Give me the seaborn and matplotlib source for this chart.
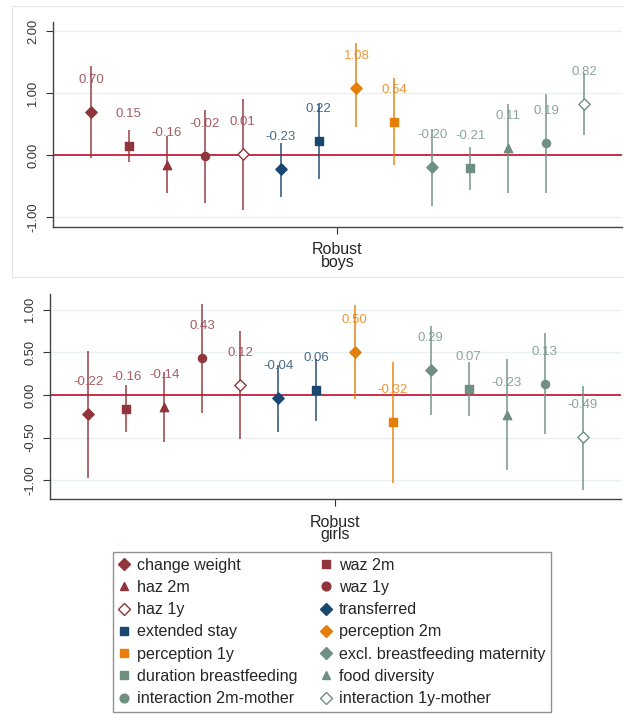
import numpy as np
import pandas as pd
import seaborn as sns
import matplotlib.pyplot as plt
from matplotlib.lines import Line2D
from matplotlib.patches import Rectangle

# outcomes in plotting order
outcomes = ['change weight', 'waz 2m', 'haz 2m', 'waz 1y', 'haz 1y',
            'transferred', 'extended stay', 'perception 2m', 'perception 1y',
            'excl. breastfeeding maternity', 'duration breastfeeding',
            'food diversity', 'interaction 2m-mother', 'interaction 1y-mother']

boys_est = [0.70, 0.15, -0.16, -0.02, 0.01, -0.23, 0.22, 1.08, 0.54,
            -0.20, -0.21, 0.11, 0.19, 0.82]
boys_lo = [-0.05, -0.12, -0.62, -0.78, -0.89, -0.68, -0.38, 0.46, -0.16,
           -0.82, -0.56, -0.62, -0.61, 0.32]
boys_hi = [1.44, 0.40, 0.30, 0.73, 0.90, 0.20, 0.83, 1.80, 1.24,
           0.42, 0.13, 0.83, 0.98, 1.32]

girls_est = [-0.22, -0.16, -0.14, 0.43, 0.12, -0.04, 0.06, 0.50, -0.32,
             0.29, 0.07, -0.23, 0.13, -0.49]
girls_lo = [-0.97, -0.43, -0.55, -0.21, -0.52, -0.43, -0.31, -0.05, -1.03,
            -0.23, -0.25, -0.88, -0.46, -1.11]
girls_hi = [0.52, 0.12, 0.27, 1.07, 0.75, 0.35, 0.42, 1.05, 0.39,
            0.81, 0.39, 0.42, 0.73, 0.11]

group_names = ['Robust\nboys', 'Robust\ngirls']
boys_ticks = [-1, 0, 1, 2]
girls_ticks = [-1, -0.5, 0, 0.5, 1]

# styles
maroon, navy, orange, green = '#90353b', '#1a476f', '#e67e0b', '#6f8f81'
colors = [maroon] * 5 + [navy] * 2 + [orange] * 2 + [green] * 5
markers = ['D', 's', '^', 'o', 'D', 'D', 's', 'D', 's', 'D', 's', '^', 'o', 'D']
hollow = [False, False, False, False, True, False, False, False, False,
          False, False, False, False, True]
sizes = {'D': 33, 's': 38, '^': 36, 'o': 34}

sns.set_style('white')
plt.rcParams['font.family'] = ['Liberation Sans', 'DejaVu Sans']

fig = plt.figure(figsize=(6.24, 7.15), dpi=100)

# faint frame around the top panel
fig.patches.append(Rectangle((12 / 624, 1 - 277 / 715), 0.99, (277 - 6) / 715,
                             transform=fig.transFigure, fill=False,
                             edgecolor='#e4e4e4', lw=0.8))

ax1 = fig.add_axes([0.0849, 0.6825, 0.9119, 0.2871])
ax2 = fig.add_axes([0.0801, 0.3017, 0.9151, 0.2871])


def draw_panel(ax, est, lo, hi, group, yticks, ylim):
    df = pd.DataFrame({'outcome': outcomes, 'est': est, 'lo': lo, 'hi': hi})
    df['pos'] = np.arange(len(df)) - (len(df) - 1) / 2

    for yt in yticks:
        if yt != 0:
            ax.axhline(yt, color='#eaf1f2', lw=1.0, zorder=0)
    ax.axhline(0, color='#c41e3a', lw=1.3, zorder=1)

    for i, row in df.iterrows():
        c = colors[i]
        ax.vlines(row['pos'], row['lo'], row['hi'], color=c, alpha=0.8,
                  lw=1.3, zorder=2)
        sns.scatterplot(x=[row['pos']], y=[row['est']], ax=ax, color=c,
                        marker=markers[i], s=sizes[markers[i]],
                        facecolor='white' if hollow[i] else c,
                        edgecolor=c, linewidth=1.0, zorder=3, legend=False)
        ax.annotate(f"{row['est']:.2f}", (row['pos'], row['est']),
                    xytext=(0, 23), textcoords='offset points',
                    ha='center', va='center', fontsize=9.5, color=c,
                    alpha=0.8, zorder=4)

    ax.set_xlim(-7.5, 7.5)
    ax.set_ylim(*ylim)
    ax.set_xticks([0])
    ax.set_xticklabels([group], fontsize=11.5, linespacing=0.8)
    ax.set_yticks(yticks)
    ax.set_yticklabels([f'{t:.2f}' for t in yticks], rotation=90,
                       va='center', fontsize=9.3, color='#333333')
    ax.tick_params(axis='both', length=5, width=0.8, color='#333333',
                   direction='out', left=True, bottom=True, pad=5)
    ax.tick_params(axis='x', pad=6)
    ax.set_xlabel('')
    ax.set_ylabel('')
    sns.despine(ax=ax)
    for side in ['left', 'bottom']:
        ax.spines[side].set_color('#444444')
        ax.spines[side].set_linewidth(1.0)


draw_panel(ax1, boys_est, boys_lo, boys_hi, group_names[0], boys_ticks, (-1.161, 2.15))
draw_panel(ax2, girls_est, girls_lo, girls_hi, group_names[1], girls_ticks, (-1.223, 1.184))

handles = []
for i, name in enumerate(outcomes):
    c = colors[i]
    handles.append(Line2D([], [], linestyle='none', marker=markers[i],
                          markersize=6 if markers[i] == 'D' else 6.3,
                          markerfacecolor='white' if hollow[i] else c,
                          markeredgecolor=c, markeredgewidth=1.0, label=name))

# legend reads row by row, matplotlib fills column by column
order = list(range(0, 14, 2)) + list(range(1, 14, 2))
handles = [handles[k] for k in order]

leg = fig.legend(handles=handles, ncol=2, loc='upper left',
                 bbox_to_anchor=(113 / 624, 1 - 552 / 715), fontsize=11.6,
                 frameon=True, fancybox=False, edgecolor='#777777',
                 handlelength=0.67, handletextpad=0.47, labelspacing=0.45,
                 columnspacing=1.45, borderpad=0.35, borderaxespad=0)
leg.get_frame().set_linewidth(1.0)

fig.savefig('out.png', dpi=100)
